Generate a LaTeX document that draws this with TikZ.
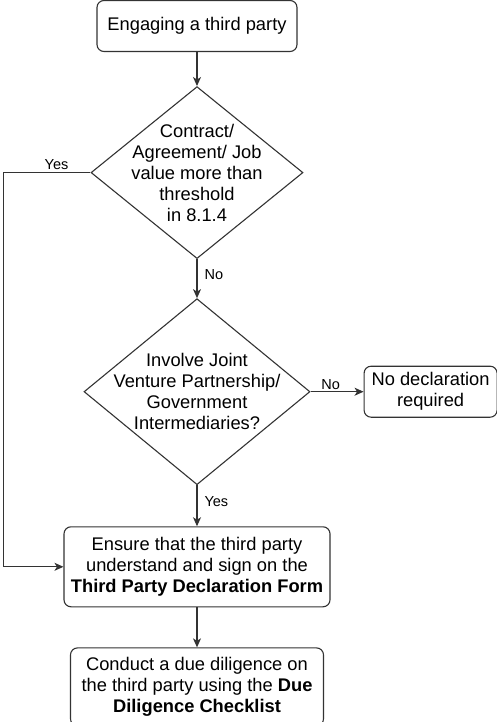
\documentclass[tikz,border=0pt]{standalone}
\usepackage{fontspec}
\setmainfont{Liberation Sans}
\usetikzlibrary{positioning,arrows.meta,shapes.geometric}

\begin{document}
\begin{tikzpicture}[
  x=1pt, y=1pt,
  box/.style={rectangle, draw=black!80, rounded corners=7pt, align=center,
              inner sep=2pt, font=\fontsize{18.3}{21}\selectfont},
  decision/.style={diamond, draw=black!80, align=center, inner sep=-60pt,
              font=\fontsize{18.3}{21}\selectfont},
  lbl/.style={font=\fontsize{14.5}{16}\selectfont, inner sep=2pt},
  arrow/.style={->, draw=black!80},
  >={Stealth[length=9pt,width=8pt,inset=2.5pt]}, line width=1.1pt
]
  \useasboundingbox (0,0) rectangle (497,-722);

  \node[box, minimum width=200pt, minimum height=51pt] (start) at (197,-26) {Engaging a third party};
  \node[decision, minimum width=212pt, minimum height=172pt, below=34pt of start] (threshold)
    {Contract/\\ Agreement/ Job\\ value more than\\ threshold\\ in 8.1.4};
  \node[decision, minimum width=226pt, minimum height=186pt, below=39pt of threshold] (jv)
    {Involve Joint\\ Venture Partnership/\\ Government\\ Intermediaries?};
  \node[box, minimum width=133pt, minimum height=51pt, right=53pt of jv] (nodecl) {No declaration\\ required};
  \node[box, minimum width=266pt, minimum height=80pt, below=41pt of jv] (declare)
    {Ensure that the third party\\ understand and sign on the\\ \textbf{Third Party Declaration Form}};
  \node[box, minimum width=253pt, minimum height=78pt, below=40pt of declare] (checklist)
    {Conduct a due diligence on\\ the third party using the \textbf{Due}\\ \textbf{Diligence Checklist}};

  \draw[arrow] (start) -- (threshold);
  \draw[arrow] (threshold.west) -- node[lbl, above, pos=0.39] (yes1) {Yes} ++(-87,0) |- (declare.west);
  \draw[arrow] (threshold) -- node[lbl, right, pos=0.4, xshift=5pt] (no1) {No} (jv);
  \draw[arrow] (jv) -- node[lbl, above, pos=0.38] (no2) {No} (nodecl);
  \draw[arrow] (jv) -- node[lbl, right, pos=0.39, xshift=5pt] (yes2) {Yes} (declare);
  \draw[arrow] (declare) -- (checklist);
\end{tikzpicture}
\end{document}
